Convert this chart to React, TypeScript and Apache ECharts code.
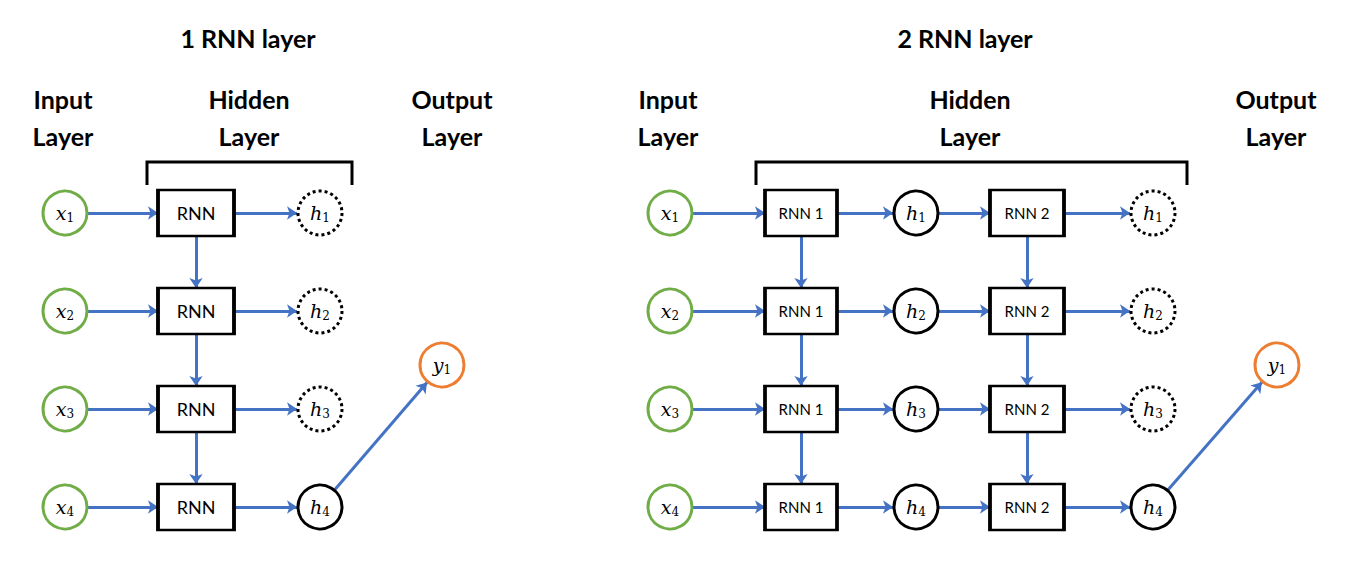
import React, { useEffect, useRef } from "react";
import * as echarts from "echarts";

const rowY = [213, 311, 409, 507];
const rowIdx = [1, 2, 3, 4];
const leftCols = { input: 65, rnn: 196, hidden: 320, out: 442 };
const rightCols = { input: 670, rnn1: 801, hid1: 916, rnn2: 1027, hid2: 1153, out: 1277 };
const outY = 365;
const titles = ["1 RNN layer", "2 RNN layer"];

const BLUE = "#4472C4";
const R = 23;

export default function App() {
  const ref = useRef<HTMLDivElement>(null);
  useEffect(() => {
    document.body.style.margin = "0";
    const chart = echarts.init(ref.current!, null, { renderer: "svg" });
    const lab = (v: string, i: number) => `{v|${v}}{s|${i}}`;
    const rich = {
      v: { fontFamily: "DejaVu Serif", fontStyle: "italic", fontSize: 19, color: "#000" },
      s: { fontFamily: "DejaVu Serif", fontSize: 12, color: "#000", padding: [10, 0, 0, 0] },
    };
    const circ = (data: any[], color: string, type: string) => ({
      type: "scatter", symbol: "circle", symbolSize: 44, z: 3,
      itemStyle: { color: "#fff", borderColor: color, borderWidth: 3, borderType: type, opacity: 1 },
      label: { show: true, position: "inside", formatter: (p: any) => p.data.t, rich },
      data,
    });
    const box = (xs: number[], w: number, text: string, fs: number) => ({
      type: "scatter", symbol: "rect", symbolSize: [w, 46], z: 3,
      itemStyle: { color: "#fff", borderColor: "#000", borderWidth: 3, opacity: 1 },
      label: { show: true, position: "inside", formatter: text, color: "#000", fontFamily: "Lato", fontSize: fs },
      data: xs.flatMap((x) => rowY.map((y) => [x, y])),
    });
    const inputs = [leftCols.input, rightCols.input].flatMap((x) =>
      rowY.map((y, i) => ({ value: [x, y], t: lab("x", rowIdx[i]) })));
    const dashed = [leftCols.hidden, rightCols.hid2].flatMap((x) =>
      rowY.slice(0, 3).map((y, i) => ({ value: [x, y], t: lab("h", rowIdx[i]) })));
    const solid = [
      ...rowY.map((y, i) => ({ value: [rightCols.hid1, y], t: lab("h", rowIdx[i]) })),
      { value: [leftCols.hidden, rowY[3]], t: lab("h", 4) },
      { value: [rightCols.hid2, rowY[3]], t: lab("h", 4) },
    ];
    const outs = [leftCols.out, rightCols.out].map((x) => ({ value: [x, outY], t: lab("y", 1) }));

    const edges: number[][][] = [];
    const h = (x1: number, x2: number, y: number) => edges.push([[x1, y], [x2, y]]);
    rowY.forEach((y, i) => {
      h(leftCols.input + R, leftCols.rnn - 38, y);
      h(leftCols.rnn + 38, leftCols.hidden - R, y);
      h(rightCols.input + R, rightCols.rnn1 - 36, y);
      h(rightCols.rnn1 + 36, rightCols.hid1 - R, y);
      h(rightCols.hid1 + R, rightCols.rnn2 - 37, y);
      h(rightCols.rnn2 + 37, rightCols.hid2 - R, y);
      if (i < 3) {
        [leftCols.rnn, rightCols.rnn1, rightCols.rnn2].forEach((x) =>
          edges.push([[x, y + 23], [x, rowY[i + 1] - 23]]));
      }
    });
    [[leftCols.hidden, leftCols.out], [rightCols.hid2, rightCols.out]].forEach(([a, b]) => {
      const dx = b - a, dy = outY - rowY[3], L = Math.hypot(dx, dy);
      edges.push([[a + (dx / L) * R, rowY[3] + (dy / L) * R], [b - (dx / L) * R, outY - (dy / L) * R]]);
    });

    const txt = (x: number, y: number, text: string) => ({
      type: "text", x, y,
      style: { text, x: 0, y: 0, align: "center", verticalAlign: "middle", font: "bold 25px Lato", fill: "#000" },
    });
    const layer = (x: number, a: string) => [txt(x, 99, a), txt(x, 136, "Layer")];

    chart.setOption({
      animation: false,
      grid: { left: 0, right: 0, top: 0, bottom: 0 },
      xAxis: { type: "value", min: 0, max: 1366, show: false },
      yAxis: { type: "value", min: 0, max: 581, inverse: true, show: false },
      graphic: [
        txt(248, 38, titles[0]), txt(965, 38, titles[1]),
        ...layer(63, "Input"), ...layer(249, "Hidden"), ...layer(452, "Output"),
        ...layer(668, "Input"), ...layer(970, "Hidden"), ...layer(1276, "Output"),
        { type: "polyline", shape: { points: [[147, 185], [147, 162], [352, 162], [352, 185]] }, style: { stroke: "#000", lineWidth: 3, fill: "none" } },
        { type: "polyline", shape: { points: [[756, 185], [756, 162], [1187, 162], [1187, 185]] }, style: { stroke: "#000", lineWidth: 3, fill: "none" } },
      ],
      series: [
        {
          type: "lines", coordinateSystem: "cartesian2d", z: 2,
          symbol: ["none", "arrow"], symbolSize: 10,
          lineStyle: { color: BLUE, width: 3, opacity: 1 },
          data: edges.map((c) => ({ coords: c })),
        },
        circ(inputs, "#70AD47", "solid"),
        circ(dashed, "#000", "dotted"),
        circ(solid, "#000", "solid"),
        circ(outs, "#ED7D31", "solid"),
        box([leftCols.rnn], 76, "RNN", 18),
        box([rightCols.rnn1], 72, "RNN 1", 15),
        box([rightCols.rnn2], 74, "RNN 2", 15),
      ],
    });
    return () => chart.dispose();
  }, []);
  return <div ref={ref} style={{ width: 1366, height: 581, background: "#fff" }} />;
}
